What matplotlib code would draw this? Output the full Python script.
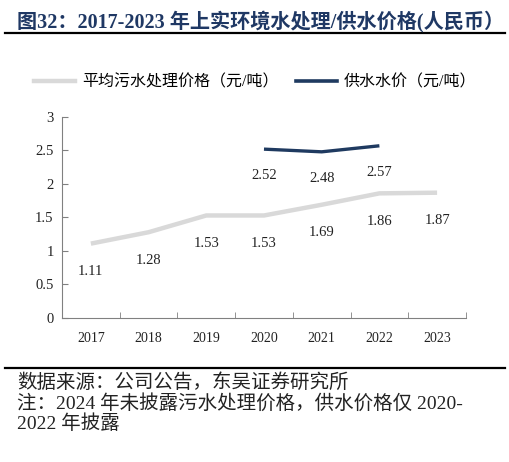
import matplotlib
matplotlib.use("Agg")
import matplotlib.pyplot as plt
from matplotlib.lines import Line2D

years = ["2017", "2018", "2019", "2020", "2021", "2022", "2023"]
sewage_price = [1.11, 1.28, 1.53, 1.53, 1.69, 1.86, 1.87]
supply_years = ["2020", "2021", "2022"]
supply_price = [2.52, 2.48, 2.57]
yticks = [0, 0.5, 1, 1.5, 2, 2.5, 3]
ytick_labels = ["0", "0.5", "1", "1.5", "2", "2.5", "3"]

title = "图32：2017-2023 年上实环境水处理/供水价格(人民币）"
legend_labels = ["平均污水处理价格（元/吨）", "供水水价（元/吨）"]
source = "数据来源：公司公告，东吴证券研究所"
note1 = "注：2024 年未披露污水处理价格，供水价格仅 2020-"
note2 = "2022 年披露"

FAM = ["Liberation Serif", "Noto Sans CJK SC", "DejaVu Sans"]
plt.rcParams["font.family"] = FAM

fig = plt.figure(figsize=(5.10, 4.62), dpi=100)
ax = fig.add_axes([0.1216, 0.3117, 0.792, 0.4351])

gray = "#D9D9D9"
navy = "#1F3A60"
x = list(range(len(years)))
xs = [years.index(y) for y in supply_years]

ax.plot(x, sewage_price, color=gray, lw=3.2, solid_capstyle="butt")
ax.plot(xs, supply_price, color=navy, lw=2.4, solid_capstyle="butt")

for xi, v in zip(x, sewage_price):
    ax.annotate(f"{v:.2f}", (xi, v), xytext=(0, -20), textcoords="offset points",
                ha="center", va="center", fontsize=10.5, color="#222222")
for xi, v in zip(xs, supply_price):
    ax.annotate(f"{v:.2f}", (xi, v), xytext=(0, -19), textcoords="offset points",
                ha="center", va="center", fontsize=10.5, color="#222222")

ax.set_xlim(-0.5, len(years) - 0.5)
ax.set_ylim(0, 3)
ax.set_yticks(yticks)
ax.set_yticklabels(ytick_labels, fontsize=10.5, color="#222222")
ax.set_xticks(x)
ax.set_xticklabels(years, fontsize=10, color="#222222")
ax.set_xticks([i + 0.5 for i in range(-1, len(years))], minor=True)
ax.tick_params(axis="x", which="major", length=0, pad=10)
ax.tick_params(axis="x", which="minor", direction="in", length=4, color="#808080")
ax.tick_params(axis="y", direction="in", length=4, color="#808080", pad=6)
for s in ["top", "right"]:
    ax.spines[s].set_visible(False)
for s in ["left", "bottom"]:
    ax.spines[s].set_color("#808080")
    ax.spines[s].set_linewidth(0.8)

handles = [Line2D([0], [0], color=gray, lw=3.2), Line2D([0], [0], color=navy, lw=2.6)]
fig.legend(handles, legend_labels, loc="center", bbox_to_anchor=(0.5, 0.822), ncol=2,
           frameon=False, fontsize=11.5, handlelength=2.6, columnspacing=1.1,
           handletextpad=0.4)

fig.text(0.033, 0.953, title, fontsize=14.5, fontweight="bold", color="#1F3864",
         ha="left", va="center")
fig.add_artist(Line2D([0.01, 0.99], [0.928, 0.928], color="black", lw=1.6,
                      transform=fig.transFigure))
fig.add_artist(Line2D([0.01, 0.99], [0.203, 0.203], color="black", lw=1.6,
                      transform=fig.transFigure))
fig.text(0.033, 0.172, source, fontsize=14, color="#222222", ha="left", va="center")
fig.text(0.033, 0.127, note1, fontsize=14, color="#222222", ha="left", va="center")
fig.text(0.033, 0.083, note2, fontsize=14, color="#222222", ha="left", va="center")

fig.savefig("out.png", dpi=100)
